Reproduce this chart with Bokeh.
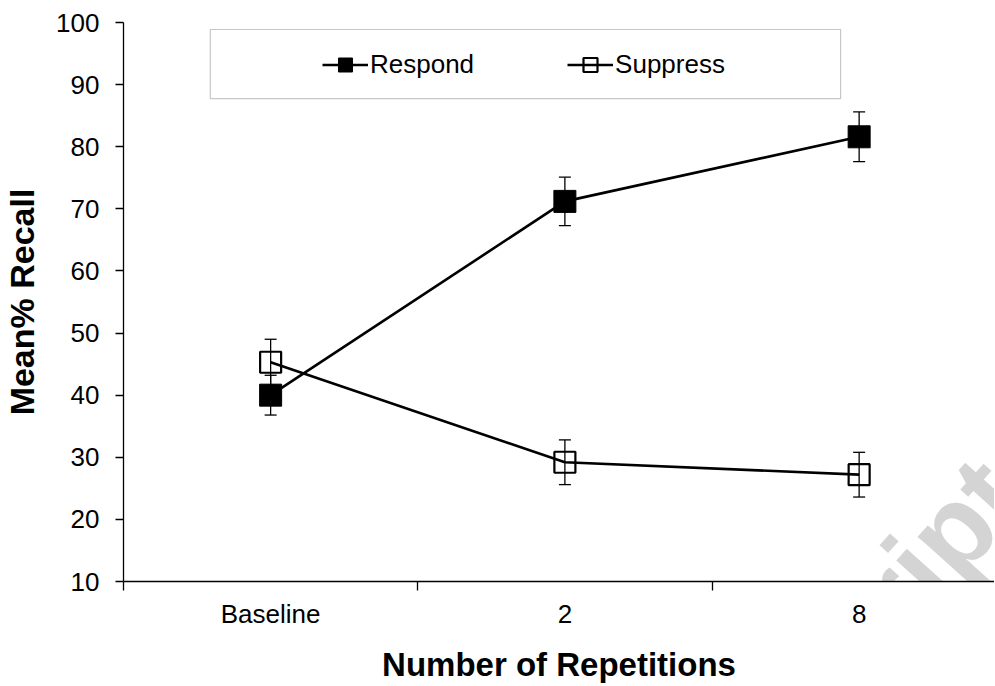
import numpy as np
from bokeh.plotting import figure
from bokeh.models import (Range1d, FixedTicker, Legend, LegendItem, BoxAnnotation,
                          Label, Whisker, ColumnDataSource, TeeHead)
from bokeh.embed import file_html
from bokeh.resources import INLINE

categories = ["Baseline", "2", "8"]
respond = [40.0, 71.2, 81.6]
respond_err = [3.2, 3.9, 4.0]
suppress = [45.3, 29.2, 27.2]
suppress_err = [3.7, 3.6, 3.6]
y_ticks = [10, 20, 30, 40, 50, 60, 70, 80, 90, 100]

FONT = "Liberation Sans"

x = np.arange(len(categories)) + 0.5
bounds = np.arange(len(categories) + 1).astype(float)

src_r = ColumnDataSource(dict(x=x, y=respond,
                              lo=np.array(respond) - np.array(respond_err),
                              hi=np.array(respond) + np.array(respond_err)))
src_s = ColumnDataSource(dict(x=x, y=suppress,
                              lo=np.array(suppress) - np.array(suppress_err),
                              hi=np.array(suppress) + np.array(suppress_err)))

p = figure(width=994, height=685, output_backend="svg", toolbar_location=None,
           x_range=Range1d(0, 2.96), y_range=Range1d(10, 100),
           min_border_left=123, min_border_right=0, min_border_top=22,
           min_border_bottom=104)
p.outline_line_color = None
p.grid.visible = False
p.background_fill_color = "white"

# watermark fragment (faint, as in the source image)
wm = Label(x=2.98, y=27.0, text="script",
           angle=48, angle_units="deg", text_align="right", text_baseline="alphabetic",
           text_font=FONT, text_font_style="bold", text_font_size="115px",
           text_color="black", text_alpha=0.17, level="annotation")
p.add_layout(wm)

# error bars
for src in (src_s, src_r):
    w = Whisker(source=src, base="x", upper="hi", lower="lo", dimension="height",
                line_color="black", line_width=1.3,
                upper_head=TeeHead(size=12, line_color="black", line_width=1.3),
                lower_head=TeeHead(size=12, line_color="black", line_width=1.3))
    p.add_layout(w)

lr = p.line("x", "y", source=src_r, line_color="black", line_width=2.6)
mr = p.scatter("x", "y", source=src_r, marker="square", size=22,
               fill_color="black", line_color="black", line_width=1)
ls = p.line("x", "y", source=src_s, line_color="black", line_width=2.6)
ms = p.scatter("x", "y", source=src_s, marker="square", size=21,
               fill_color=None, line_color="black", line_width=2.2)

# legend frame
box = BoxAnnotation(left=0.295, right=2.437, top=98.87, bottom=87.74,
                    fill_color="white", fill_alpha=1.0, line_color="#444444",
                    line_width=1.2, level="annotation")
p.add_layout(box)

legend = Legend(items=[LegendItem(label="Respond", renderers=[lr, mr]),
                       LegendItem(label="Suppress", renderers=[ls, ms])],
                orientation="horizontal", location=(199, 499),
                padding=0, margin=0, spacing=93, glyph_width=46, glyph_height=35,
                label_standoff=2, border_line_color=None, background_fill_alpha=0,
                label_text_font=FONT, label_text_font_size="26px",
                label_text_color="black")
p.add_layout(legend, "center")

# axes
p.yaxis.ticker = FixedTicker(ticks=y_ticks)
p.xaxis.ticker = FixedTicker(ticks=list(x), minor_ticks=list(bounds))
p.xaxis.major_label_overrides = {float(v): c for v, c in zip(x, categories)}

for ax in (p.xaxis[0], p.yaxis[0]):
    ax.axis_line_color = "black"
    ax.axis_line_width = 1.3
    ax.major_label_text_font = FONT
    ax.major_label_text_font_size = "26px"
    ax.major_label_text_color = "black"
    ax.axis_label_text_font = FONT
    ax.axis_label_text_font_style = "bold"
    ax.axis_label_text_color = "black"

p.yaxis.major_tick_line_color = "black"
p.yaxis.major_tick_line_width = 1.3
p.yaxis.major_tick_out = 8
p.yaxis.major_tick_in = 0
p.yaxis.minor_tick_line_color = None
p.yaxis.major_label_standoff = 16
p.yaxis.axis_label = "Mean% Recall"
p.yaxis.axis_label_text_font_size = "34px"
p.yaxis.axis_label_standoff = 12

p.xaxis.major_tick_line_color = None
p.xaxis.major_tick_out = 0
p.xaxis.major_tick_in = 0
p.xaxis.minor_tick_line_color = "black"
p.xaxis.minor_tick_line_width = 1.3
p.xaxis.minor_tick_out = 9
p.xaxis.minor_tick_in = 0
p.xaxis.major_label_standoff = 8
p.xaxis.axis_label = "Number of Repetitions"
p.xaxis.axis_label_text_font_size = "33px"
p.xaxis.axis_label_standoff = 14

open("out.html", "w").write(file_html(p, INLINE))
